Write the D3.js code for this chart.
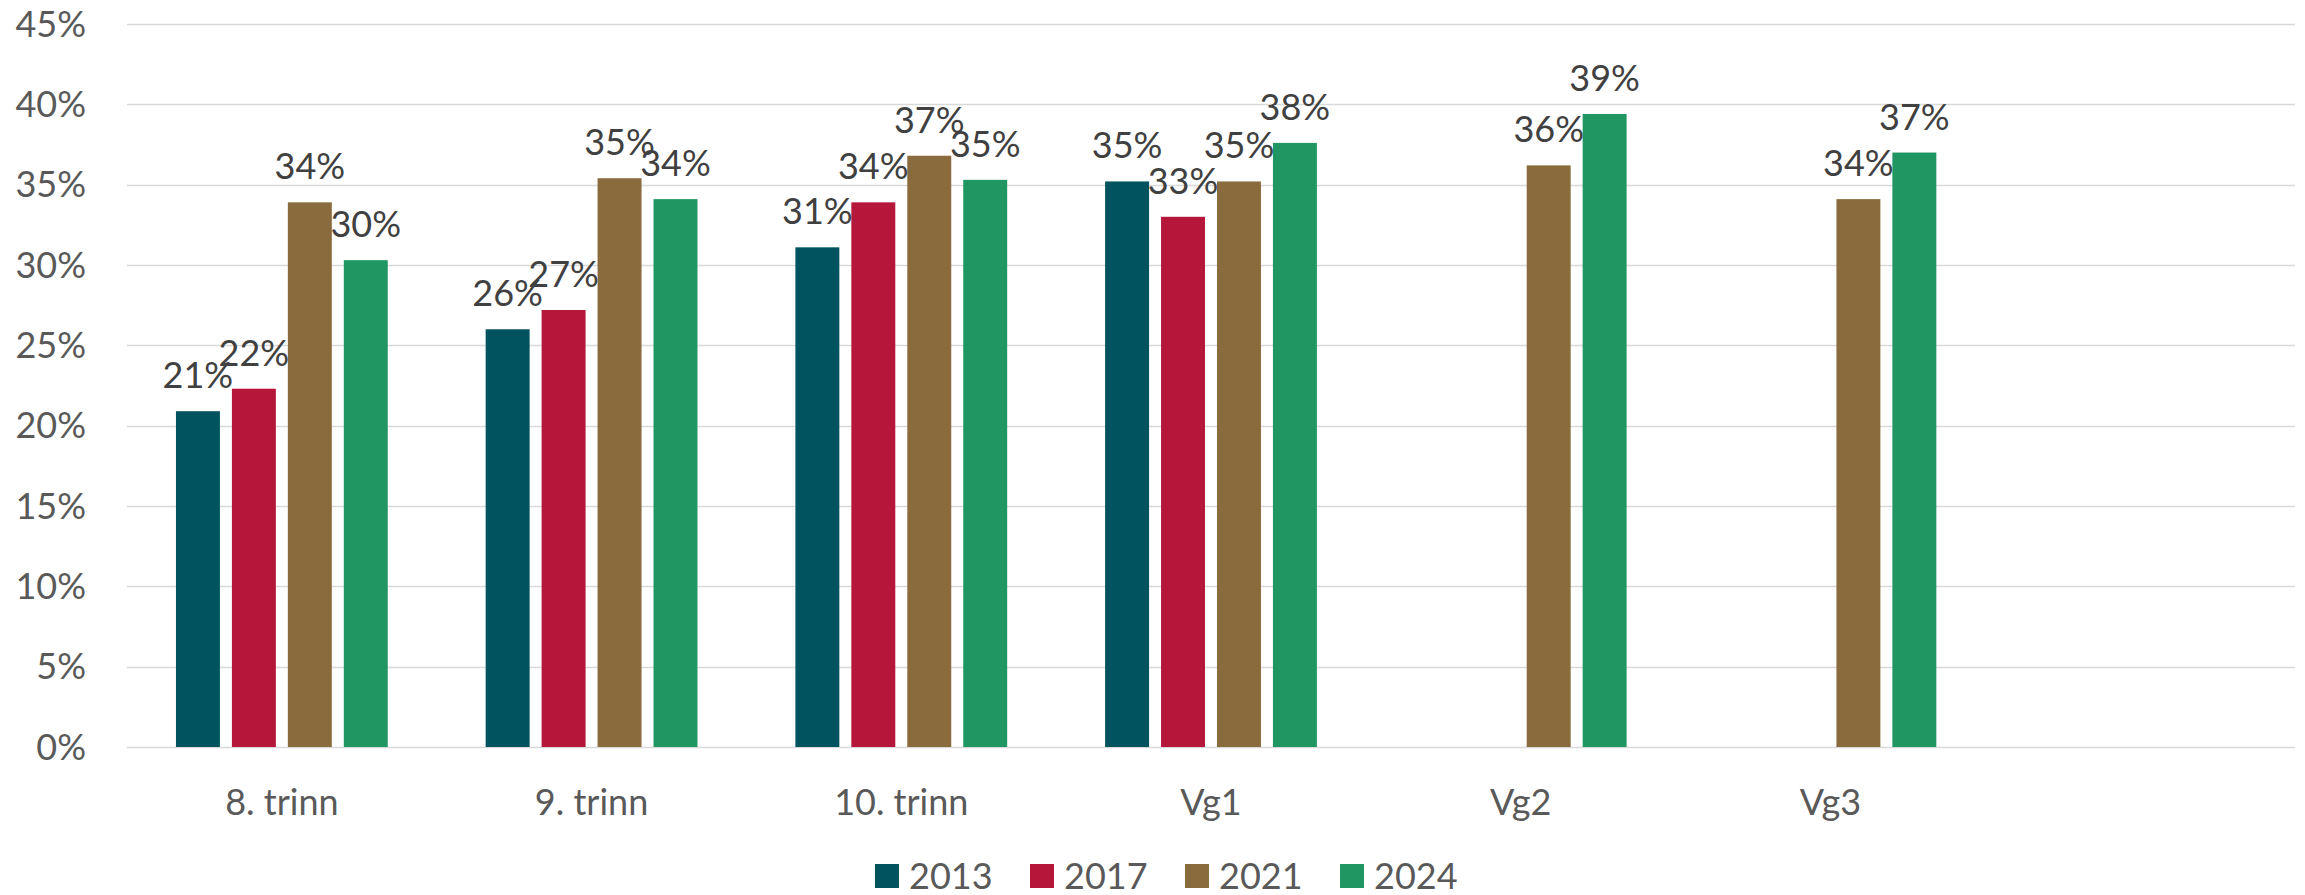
<!DOCTYPE html>
<html>
<head>
<meta charset="utf-8">
<script src="https://cdn.jsdelivr.net/npm/d3@7"></script>
<style>
  html, body { margin: 0; padding: 0; background: #fff; }
  svg { display: block; }
</style>
</head>
<body>
<div id="chart"></div>
<script>
// categories (last slot is empty in the original chart)
const categories = ["8. trinn", "9. trinn", "10. trinn", "Vg1", "Vg2", "Vg3", ""];
const years = ["2013", "2017", "2021", "2024"];
const values2013 = [0.209, 0.260, 0.311, 0.352, null, null, null];
const values2017 = [0.223, 0.272, 0.339, 0.330, null, null, null];
const values2021 = [0.339, 0.354, 0.368, 0.352, 0.362, 0.341, null];
const values2024 = [0.303, 0.341, 0.353, 0.376, 0.394, 0.370, null];
const yTicks = [0, 0.05, 0.10, 0.15, 0.20, 0.25, 0.30, 0.35, 0.40, 0.45];
const colors = ["#00535F", "#B5173B", "#8A6B3D", "#209662"];

const series = [values2013, values2017, values2021, values2024];

const width = 2305, height = 895;
const margin = { left: 127, right: 10, top: 24, bottom: 148 };
const font = "Lato, 'Open Sans', sans-serif";

const svg = d3.select("#chart")
    .append("svg")
        .attr("width", width)
        .attr("height", height);

const x = d3.scaleBand()
    .domain(categories)
    .range([margin.left, width - margin.right])
    .padding(0);

const y = d3.scaleLinear()
    .domain([0, 0.45])
    .range([height - margin.bottom, margin.top]);

// bars inside a group: 44px wide, 56px step
const inner = d3.scaleBand()
    .domain(years)
    .range([0, x.bandwidth()])
    .paddingInner(0.2143)
    .paddingOuter(0.875);

// gridlines
svg.append("g")
    .selectAll("line")
    .data(yTicks)
    .enter().append("line")
        .attr("x1", margin.left)
        .attr("x2", width - margin.right)
        .attr("y1", d => Math.round(y(d)) + 0.5)
        .attr("y2", d => Math.round(y(d)) + 0.5)
        .attr("stroke", "#D9D9D9")
        .attr("stroke-width", 1.5);

// y axis labels
svg.append("g")
    .selectAll("text")
    .data(yTicks)
    .enter().append("text")
        .attr("x", 86)
        .attr("y", d => y(d))
        .attr("dy", "0.35em")
        .attr("text-anchor", "end")
        .attr("font-family", font)
        .attr("font-size", 36)
        .attr("fill", "#595959")
        .text(d => d3.format(".0%")(d));

// bars
const flat = [];
categories.forEach((c, i) => {
    years.forEach((yr, j) => {
        const v = series[j][i];
        if (v != null) flat.push({ cat: c, year: yr, value: v, color: colors[j] });
    });
});

svg.append("g")
    .selectAll("rect")
    .data(flat)
    .enter().append("rect")
        .attr("x", d => x(d.cat) + inner(d.year))
        .attr("y", d => y(d.value))
        .attr("width", inner.bandwidth())
        .attr("height", d => y(0) - y(d.value))
        .attr("fill", d => d.color);

// data labels
svg.append("g")
    .selectAll("text")
    .data(flat)
    .enter().append("text")
        .attr("x", d => x(d.cat) + inner(d.year) + inner.bandwidth() / 2)
        .attr("y", d => y(d.value) - 23)
        .attr("text-anchor", "middle")
        .attr("font-family", font)
        .attr("font-size", 36)
        .attr("fill", "#404040")
        .text(d => d3.format(".0%")(d.value));

// x axis labels
svg.append("g")
    .selectAll("text")
    .data(categories)
    .enter().append("text")
        .attr("x", d => x(d) + x.bandwidth() / 2)
        .attr("y", 815)
        .attr("text-anchor", "middle")
        .attr("font-family", font)
        .attr("font-size", 36)
        .attr("fill", "#595959")
        .text(d => d);

// legend
const legend = svg.append("g")
    .selectAll("g")
    .data(years)
    .enter().append("g")
        .attr("transform", (d, i) => "translate(" + (875 + i * 155) + ",864)");

legend.append("rect")
    .attr("width", 24)
    .attr("height", 24)
    .attr("fill", (d, i) => colors[i]);

legend.append("text")
    .attr("x", 34)
    .attr("y", 12)
    .attr("dy", "0.36em")
    .attr("font-family", font)
    .attr("font-size", 36)
    .attr("fill", "#595959")
    .text(d => d);
</script>
</body>
</html>
